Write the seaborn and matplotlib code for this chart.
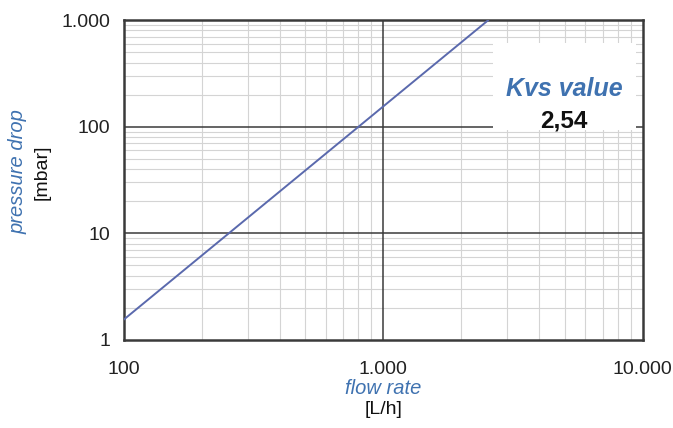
import matplotlib
matplotlib.use('Agg')
import matplotlib.pyplot as plt
import seaborn as sns
from matplotlib.ticker import FixedLocator, FuncFormatter, NullFormatter
from matplotlib.patches import Rectangle

# Data (straight line on log-log axes)
flow_rate = [100, 2540]          # L/h
pressure_drop = [1.55, 1000]     # mbar
kvs_value = "2,54"

x_major = [100, 1000, 10000]
y_major = [1, 10, 100, 1000]

sns.set_style("white")
plt.rcParams['font.family'] = ['Liberation Sans', 'DejaVu Sans']

BLUE = '#3f72b0'
LINE = '#5a69ad'
DARK = '#3a3a3a'


def thousands(v, pos=None):
    return f"{int(round(v)):,}".replace(",", ".")


fig = plt.figure(figsize=(6.73, 4.28), dpi=100)
ax = fig.add_axes([0.184, 0.206, 0.771, 0.747])

sns.lineplot(x=flow_rate, y=pressure_drop, ax=ax, color=LINE, linewidth=1.4, zorder=3)

ax.set_xscale('log')
ax.set_yscale('log')
ax.set_xlim(100, 10000)
ax.set_ylim(1, 1000)

ax.xaxis.set_major_locator(FixedLocator(x_major))
ax.yaxis.set_major_locator(FixedLocator(y_major))
ax.xaxis.set_major_formatter(FuncFormatter(thousands))
ax.yaxis.set_major_formatter(FuncFormatter(thousands))
x_minor = [m * d for d in (100, 1000) for m in range(2, 10)]
y_minor = [m * d for d in (1, 10, 100) for m in range(2, 10)]
ax.xaxis.set_minor_locator(FixedLocator(x_minor))
ax.yaxis.set_minor_locator(FixedLocator(y_minor))
ax.xaxis.set_minor_formatter(NullFormatter())
ax.yaxis.set_minor_formatter(NullFormatter())

# light minor grid, dark major lines drawn on top of it
ax.set_axisbelow(True)
ax.grid(which='minor', color='#d4d4d4', linewidth=0.8)
ax.grid(which='major', visible=False)
for v in x_major[1:-1]:
    ax.axvline(v, color=DARK, linewidth=1.1, zorder=0.8)
for v in y_major[1:-1]:
    ax.axhline(v, color=DARK, linewidth=1.1, zorder=0.8)

ax.tick_params(which='both', length=0)
ax.tick_params(axis='x', pad=15, labelsize=14, colors='#222222')
ax.tick_params(axis='y', pad=10, labelsize=14, colors='#222222')

for s in ax.spines.values():
    s.set_color(DARK)
    s.set_linewidth(1.8)
    s.set_visible(True)

ax.set_xlabel('')
ax.set_ylabel('')

# white box behind the Kvs annotation
ax.add_patch(Rectangle((0.712, 0.656), 0.276, 0.272, transform=ax.transAxes,
                       facecolor='white', edgecolor='none', zorder=1))
ax.text(0.848, 0.784, 'Kvs value', transform=ax.transAxes, ha='center', va='center',
        fontsize=18, fontweight='bold', fontstyle='italic', color=BLUE, zorder=4)
ax.text(0.848, 0.684, kvs_value, transform=ax.transAxes, ha='center', va='center',
        fontsize=17.5, fontweight='bold', color='#111111', zorder=4)

# axis titles
fig.text(0.570, 1 - 388 / 428, 'flow rate', ha='center', va='center',
         fontsize=14.5, fontstyle='italic', color=BLUE)
fig.text(0.570, 1 - 409 / 428, '[L/h]', ha='center', va='center',
         fontsize=14, color='#111111')
fig.text(18 / 673, 1 - 172 / 428, 'pressure drop', ha='center', va='center',
         rotation=90, fontsize=14.5, fontstyle='italic', color=BLUE)
fig.text(42 / 673, 1 - 172 / 428, '[mbar]', ha='center', va='center',
         rotation=90, fontsize=14, color='#111111')

plt.savefig('out.png', dpi=100)
plt.close()
